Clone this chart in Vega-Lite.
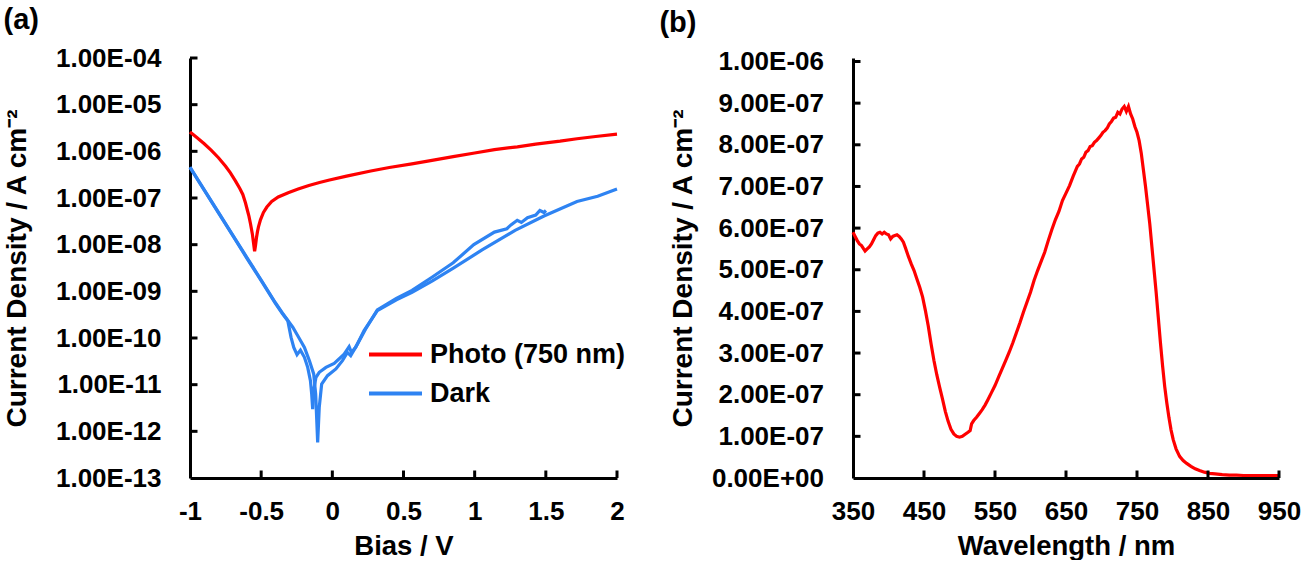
{
  "$schema": "https://vega.github.io/schema/vega-lite/v6.json",
  "background": "white",
  "padding": {"left": 3, "top": 5, "right": 5, "bottom": 0},
  "spacing": 34,
  "config": {
    "view": {"stroke": null},
    "font": "Liberation Sans",
    "axis": {
      "labelFont": "Liberation Sans", "labelFontSize": 26, "labelFontWeight": "bold", "labelColor": "black",
      "titleFont": "Liberation Sans", "titleFontSize": 28, "titleFontWeight": "bold", "titleColor": "black",
      "domainColor": "black", "domainWidth": 3, "ticks": false,
      "grid": false, "labelFlush": false, "labelOverlap": false
    },
    "axisX": {"labelPadding": 20, "titlePadding": 8, "titleFontSize": 27.5},
    "title": {"font": "Liberation Sans", "fontSize": 29, "fontWeight": "bold", "color": "black", "anchor": "start", "frame": "bounds"}
  },
  "datasets": {
    "iv": [
      {"series": "Photo (750 nm)", "scan": "p", "bias": -1.0, "j": 2.6e-6},
      {"series": "Photo (750 nm)", "scan": "p", "bias": -0.95, "j": 1.95e-6},
      {"series": "Photo (750 nm)", "scan": "p", "bias": -0.9, "j": 1.45e-6},
      {"series": "Photo (750 nm)", "scan": "p", "bias": -0.85, "j": 1.05e-6},
      {"series": "Photo (750 nm)", "scan": "p", "bias": -0.8, "j": 7.3e-7},
      {"series": "Photo (750 nm)", "scan": "p", "bias": -0.75, "j": 4.8e-7},
      {"series": "Photo (750 nm)", "scan": "p", "bias": -0.716, "j": 3.45e-7},
      {"series": "Photo (750 nm)", "scan": "p", "bias": -0.68, "j": 2.3e-7},
      {"series": "Photo (750 nm)", "scan": "p", "bias": -0.65, "j": 1.6e-7},
      {"series": "Photo (750 nm)", "scan": "p", "bias": -0.629, "j": 1.19e-7},
      {"series": "Photo (750 nm)", "scan": "p", "bias": -0.61, "j": 7.8e-8},
      {"series": "Photo (750 nm)", "scan": "p", "bias": -0.595, "j": 5.2e-8},
      {"series": "Photo (750 nm)", "scan": "p", "bias": -0.586, "j": 4.1e-8},
      {"series": "Photo (750 nm)", "scan": "p", "bias": -0.575, "j": 2.8e-8},
      {"series": "Photo (750 nm)", "scan": "p", "bias": -0.562, "j": 1.7e-8},
      {"series": "Photo (750 nm)", "scan": "p", "bias": -0.552, "j": 1.0e-8},
      {"series": "Photo (750 nm)", "scan": "p", "bias": -0.546, "j": 7.2e-9},
      {"series": "Photo (750 nm)", "scan": "p", "bias": -0.54, "j": 9.5e-9},
      {"series": "Photo (750 nm)", "scan": "p", "bias": -0.533, "j": 1.4e-8},
      {"series": "Photo (750 nm)", "scan": "p", "bias": -0.526, "j": 1.9e-8},
      {"series": "Photo (750 nm)", "scan": "p", "bias": -0.519, "j": 2.4e-8},
      {"series": "Photo (750 nm)", "scan": "p", "bias": -0.505, "j": 3.4e-8},
      {"series": "Photo (750 nm)", "scan": "p", "bias": -0.484, "j": 4.9e-8},
      {"series": "Photo (750 nm)", "scan": "p", "bias": -0.46, "j": 6.4e-8},
      {"series": "Photo (750 nm)", "scan": "p", "bias": -0.426, "j": 8.4e-8},
      {"series": "Photo (750 nm)", "scan": "p", "bias": -0.38, "j": 1.05e-7},
      {"series": "Photo (750 nm)", "scan": "p", "bias": -0.31, "j": 1.3e-7},
      {"series": "Photo (750 nm)", "scan": "p", "bias": -0.24, "j": 1.55e-7},
      {"series": "Photo (750 nm)", "scan": "p", "bias": -0.165, "j": 1.86e-7},
      {"series": "Photo (750 nm)", "scan": "p", "bias": -0.09, "j": 2.15e-7},
      {"series": "Photo (750 nm)", "scan": "p", "bias": -0.02, "j": 2.43e-7},
      {"series": "Photo (750 nm)", "scan": "p", "bias": 0.1, "j": 2.95e-7},
      {"series": "Photo (750 nm)", "scan": "p", "bias": 0.27, "j": 3.78e-7},
      {"series": "Photo (750 nm)", "scan": "p", "bias": 0.4, "j": 4.5e-7},
      {"series": "Photo (750 nm)", "scan": "p", "bias": 0.559, "j": 5.4e-7},
      {"series": "Photo (750 nm)", "scan": "p", "bias": 0.7, "j": 6.4e-7},
      {"series": "Photo (750 nm)", "scan": "p", "bias": 0.849, "j": 7.7e-7},
      {"series": "Photo (750 nm)", "scan": "p", "bias": 1.0, "j": 9.2e-7},
      {"series": "Photo (750 nm)", "scan": "p", "bias": 1.139, "j": 1.09e-6},
      {"series": "Photo (750 nm)", "scan": "p", "bias": 1.3, "j": 1.25e-6},
      {"series": "Photo (750 nm)", "scan": "p", "bias": 1.429, "j": 1.43e-6},
      {"series": "Photo (750 nm)", "scan": "p", "bias": 1.6, "j": 1.65e-6},
      {"series": "Photo (750 nm)", "scan": "p", "bias": 1.719, "j": 1.86e-6},
      {"series": "Photo (750 nm)", "scan": "p", "bias": 1.85, "j": 2.08e-6},
      {"series": "Photo (750 nm)", "scan": "p", "bias": 2.0, "j": 2.34e-6},

      {"series": "Dark", "scan": "a", "bias": -1.0, "j": 4.5e-7},
      {"series": "Dark", "scan": "a", "bias": -0.9, "j": 1.48e-7},
      {"series": "Dark", "scan": "a", "bias": -0.8, "j": 4.8e-8},
      {"series": "Dark", "scan": "a", "bias": -0.7, "j": 1.58e-8},
      {"series": "Dark", "scan": "a", "bias": -0.6, "j": 5.1e-9},
      {"series": "Dark", "scan": "a", "bias": -0.5, "j": 1.7e-9},
      {"series": "Dark", "scan": "a", "bias": -0.4, "j": 5.5e-10},
      {"series": "Dark", "scan": "a", "bias": -0.35, "j": 3.3e-10},
      {"series": "Dark", "scan": "a", "bias": -0.313, "j": 2.35e-10},
      {"series": "Dark", "scan": "a", "bias": -0.29, "j": 1.03e-10},
      {"series": "Dark", "scan": "a", "bias": -0.271, "j": 6.3e-11},
      {"series": "Dark", "scan": "a", "bias": -0.248, "j": 4.4e-11},
      {"series": "Dark", "scan": "a", "bias": -0.224, "j": 5.5e-11},
      {"series": "Dark", "scan": "a", "bias": -0.196, "j": 3.85e-11},
      {"series": "Dark", "scan": "a", "bias": -0.173, "j": 2.35e-11},
      {"series": "Dark", "scan": "a", "bias": -0.154, "j": 1.22e-11},
      {"series": "Dark", "scan": "a", "bias": -0.145, "j": 6.3e-12},
      {"series": "Dark", "scan": "a", "bias": -0.138, "j": 3.0e-12},
      {"series": "Dark", "scan": "a", "bias": -0.127, "j": 8.8e-12},
      {"series": "Dark", "scan": "a", "bias": -0.115, "j": 1.44e-11},
      {"series": "Dark", "scan": "a", "bias": -0.092, "j": 1.84e-11},
      {"series": "Dark", "scan": "a", "bias": -0.045, "j": 2.35e-11},
      {"series": "Dark", "scan": "a", "bias": 0.013, "j": 2.86e-11},
      {"series": "Dark", "scan": "a", "bias": 0.083, "j": 4.5e-11},
      {"series": "Dark", "scan": "a", "bias": 0.118, "j": 6.5e-11},
      {"series": "Dark", "scan": "a", "bias": 0.134, "j": 4.9e-11},
      {"series": "Dark", "scan": "a", "bias": 0.164, "j": 6.3e-11},
      {"series": "Dark", "scan": "a", "bias": 0.223, "j": 1.44e-10},
      {"series": "Dark", "scan": "a", "bias": 0.316, "j": 3.85e-10},
      {"series": "Dark", "scan": "a", "bias": 0.45, "j": 6.6e-10},
      {"series": "Dark", "scan": "a", "bias": 0.56, "j": 9.5e-10},
      {"series": "Dark", "scan": "a", "bias": 0.7, "j": 1.66e-9},
      {"series": "Dark", "scan": "a", "bias": 0.85, "j": 3.16e-9},
      {"series": "Dark", "scan": "a", "bias": 1.052, "j": 7.7e-9},
      {"series": "Dark", "scan": "a", "bias": 1.284, "j": 2.03e-8},
      {"series": "Dark", "scan": "a", "bias": 1.487, "j": 4.1e-8},
      {"series": "Dark", "scan": "a", "bias": 1.719, "j": 8.4e-8},
      {"series": "Dark", "scan": "a", "bias": 1.864, "j": 1.09e-7},
      {"series": "Dark", "scan": "a", "bias": 2.0, "j": 1.56e-7},

      {"series": "Dark", "scan": "b", "bias": -1.0, "j": 4.6e-7},
      {"series": "Dark", "scan": "b", "bias": -0.9, "j": 1.5e-7},
      {"series": "Dark", "scan": "b", "bias": -0.8, "j": 4.9e-8},
      {"series": "Dark", "scan": "b", "bias": -0.7, "j": 1.6e-8},
      {"series": "Dark", "scan": "b", "bias": -0.6, "j": 5.3e-9},
      {"series": "Dark", "scan": "b", "bias": -0.5, "j": 1.75e-9},
      {"series": "Dark", "scan": "b", "bias": -0.4, "j": 5.7e-10},
      {"series": "Dark", "scan": "b", "bias": -0.35, "j": 3.4e-10},
      {"series": "Dark", "scan": "b", "bias": -0.278, "j": 1.7e-10},
      {"series": "Dark", "scan": "b", "bias": -0.243, "j": 1.12e-10},
      {"series": "Dark", "scan": "b", "bias": -0.196, "j": 6.3e-11},
      {"series": "Dark", "scan": "b", "bias": -0.161, "j": 3.27e-11},
      {"series": "Dark", "scan": "b", "bias": -0.131, "j": 1.7e-11},
      {"series": "Dark", "scan": "b", "bias": -0.117, "j": 6.3e-12},
      {"series": "Dark", "scan": "b", "bias": -0.103, "j": 5.8e-13},
      {"series": "Dark", "scan": "b", "bias": -0.092, "j": 3.27e-12},
      {"series": "Dark", "scan": "b", "bias": -0.075, "j": 1.03e-11},
      {"series": "Dark", "scan": "b", "bias": -0.034, "j": 1.56e-11},
      {"series": "Dark", "scan": "b", "bias": 0.025, "j": 2.17e-11},
      {"series": "Dark", "scan": "b", "bias": 0.071, "j": 3.27e-11},
      {"series": "Dark", "scan": "b", "bias": 0.106, "j": 4.9e-11},
      {"series": "Dark", "scan": "b", "bias": 0.129, "j": 4.2e-11},
      {"series": "Dark", "scan": "b", "bias": 0.176, "j": 7.4e-11},
      {"series": "Dark", "scan": "b", "bias": 0.234, "j": 1.56e-10},
      {"series": "Dark", "scan": "b", "bias": 0.316, "j": 4.0e-10},
      {"series": "Dark", "scan": "b", "bias": 0.45, "j": 7.1e-10},
      {"series": "Dark", "scan": "b", "bias": 0.56, "j": 1.05e-9},
      {"series": "Dark", "scan": "b", "bias": 0.7, "j": 2.0e-9},
      {"series": "Dark", "scan": "b", "bias": 0.849, "j": 4.1e-9},
      {"series": "Dark", "scan": "b", "bias": 0.994, "j": 1.0e-8},
      {"series": "Dark", "scan": "b", "bias": 1.139, "j": 1.86e-8},
      {"series": "Dark", "scan": "b", "bias": 1.226, "j": 2.2e-8},
      {"series": "Dark", "scan": "b", "bias": 1.255, "j": 2.65e-8},
      {"series": "Dark", "scan": "b", "bias": 1.299, "j": 3.33e-8},
      {"series": "Dark", "scan": "b", "bias": 1.328, "j": 3.0e-8},
      {"series": "Dark", "scan": "b", "bias": 1.371, "j": 3.78e-8},
      {"series": "Dark", "scan": "b", "bias": 1.429, "j": 4.3e-8},
      {"series": "Dark", "scan": "b", "bias": 1.458, "j": 5.4e-8},
      {"series": "Dark", "scan": "b", "bias": 1.487, "j": 4.9e-8},
      {"series": "Dark", "scan": "b", "bias": 1.501, "j": 5.4e-8}
    ],
    "spectrum": [
      {"wl": 350, "j": 5.90e-7}, {"wl": 353, "j": 5.80e-7}, {"wl": 356, "j": 5.70e-7}, {"wl": 359, "j": 5.62e-7},
      {"wl": 362, "j": 5.58e-7}, {"wl": 365, "j": 5.50e-7}, {"wl": 367, "j": 5.45e-7}, {"wl": 370, "j": 5.50e-7},
      {"wl": 373, "j": 5.55e-7}, {"wl": 376, "j": 5.62e-7}, {"wl": 379, "j": 5.72e-7}, {"wl": 382, "j": 5.82e-7},
      {"wl": 385, "j": 5.88e-7}, {"wl": 388, "j": 5.90e-7}, {"wl": 391, "j": 5.86e-7}, {"wl": 394, "j": 5.90e-7},
      {"wl": 397, "j": 5.86e-7}, {"wl": 400, "j": 5.84e-7}, {"wl": 403, "j": 5.74e-7}, {"wl": 406, "j": 5.80e-7},
      {"wl": 409, "j": 5.82e-7}, {"wl": 412, "j": 5.84e-7}, {"wl": 415, "j": 5.80e-7}, {"wl": 418, "j": 5.74e-7},
      {"wl": 421, "j": 5.66e-7}, {"wl": 424, "j": 5.52e-7}, {"wl": 428, "j": 5.32e-7}, {"wl": 432, "j": 5.14e-7},
      {"wl": 436, "j": 4.98e-7}, {"wl": 440, "j": 4.78e-7}, {"wl": 444, "j": 4.58e-7}, {"wl": 448, "j": 4.35e-7},
      {"wl": 452, "j": 4.02e-7}, {"wl": 456, "j": 3.65e-7}, {"wl": 460, "j": 3.22e-7}, {"wl": 464, "j": 2.82e-7},
      {"wl": 468, "j": 2.48e-7}, {"wl": 472, "j": 2.18e-7}, {"wl": 476, "j": 1.90e-7}, {"wl": 480, "j": 1.60e-7},
      {"wl": 484, "j": 1.36e-7}, {"wl": 488, "j": 1.17e-7}, {"wl": 492, "j": 1.06e-7}, {"wl": 496, "j": 1.00e-7},
      {"wl": 500, "j": 0.98e-7}, {"wl": 504, "j": 1.00e-7}, {"wl": 508, "j": 1.05e-7}, {"wl": 512, "j": 1.10e-7},
      {"wl": 515, "j": 1.14e-7}, {"wl": 517, "j": 1.30e-7}, {"wl": 520, "j": 1.38e-7}, {"wl": 524, "j": 1.46e-7},
      {"wl": 528, "j": 1.55e-7}, {"wl": 532, "j": 1.64e-7}, {"wl": 536, "j": 1.75e-7}, {"wl": 540, "j": 1.88e-7},
      {"wl": 545, "j": 2.05e-7}, {"wl": 550, "j": 2.22e-7}, {"wl": 555, "j": 2.42e-7}, {"wl": 560, "j": 2.62e-7},
      {"wl": 565, "j": 2.82e-7}, {"wl": 570, "j": 3.02e-7}, {"wl": 575, "j": 3.24e-7}, {"wl": 580, "j": 3.48e-7},
      {"wl": 585, "j": 3.72e-7}, {"wl": 590, "j": 3.98e-7}, {"wl": 595, "j": 4.22e-7}, {"wl": 600, "j": 4.46e-7},
      {"wl": 605, "j": 4.74e-7}, {"wl": 610, "j": 4.98e-7}, {"wl": 615, "j": 5.20e-7}, {"wl": 620, "j": 5.42e-7},
      {"wl": 625, "j": 5.70e-7}, {"wl": 630, "j": 5.96e-7}, {"wl": 635, "j": 6.20e-7}, {"wl": 640, "j": 6.40e-7},
      {"wl": 645, "j": 6.66e-7}, {"wl": 650, "j": 6.84e-7}, {"wl": 655, "j": 7.02e-7}, {"wl": 660, "j": 7.24e-7},
      {"wl": 663, "j": 7.36e-7}, {"wl": 666, "j": 7.48e-7}, {"wl": 669, "j": 7.54e-7}, {"wl": 672, "j": 7.66e-7},
      {"wl": 675, "j": 7.70e-7}, {"wl": 678, "j": 7.82e-7}, {"wl": 681, "j": 7.86e-7}, {"wl": 684, "j": 7.96e-7},
      {"wl": 687, "j": 7.98e-7}, {"wl": 690, "j": 8.06e-7}, {"wl": 693, "j": 8.10e-7}, {"wl": 696, "j": 8.16e-7},
      {"wl": 699, "j": 8.22e-7}, {"wl": 702, "j": 8.30e-7}, {"wl": 705, "j": 8.34e-7}, {"wl": 708, "j": 8.40e-7},
      {"wl": 711, "j": 8.50e-7}, {"wl": 714, "j": 8.56e-7}, {"wl": 717, "j": 8.64e-7}, {"wl": 720, "j": 8.66e-7},
      {"wl": 723, "j": 8.78e-7}, {"wl": 726, "j": 8.74e-7}, {"wl": 729, "j": 8.86e-7}, {"wl": 732, "j": 8.92e-7},
      {"wl": 735, "j": 8.80e-7}, {"wl": 738, "j": 8.92e-7}, {"wl": 741, "j": 8.74e-7}, {"wl": 744, "j": 8.62e-7},
      {"wl": 747, "j": 8.44e-7}, {"wl": 750, "j": 8.30e-7}, {"wl": 753, "j": 8.10e-7}, {"wl": 756, "j": 7.80e-7},
      {"wl": 759, "j": 7.40e-7}, {"wl": 762, "j": 7.00e-7}, {"wl": 765, "j": 6.55e-7}, {"wl": 768, "j": 6.10e-7},
      {"wl": 771, "j": 5.55e-7}, {"wl": 774, "j": 5.00e-7}, {"wl": 777, "j": 4.45e-7}, {"wl": 780, "j": 3.85e-7},
      {"wl": 783, "j": 3.25e-7}, {"wl": 786, "j": 2.70e-7}, {"wl": 789, "j": 2.20e-7}, {"wl": 792, "j": 1.80e-7},
      {"wl": 795, "j": 1.45e-7}, {"wl": 798, "j": 1.15e-7}, {"wl": 801, "j": 0.92e-7}, {"wl": 805, "j": 0.70e-7},
      {"wl": 810, "j": 0.52e-7}, {"wl": 815, "j": 0.42e-7}, {"wl": 820, "j": 0.35e-7}, {"wl": 826, "j": 0.28e-7},
      {"wl": 832, "j": 0.22e-7}, {"wl": 838, "j": 0.18e-7}, {"wl": 845, "j": 0.14e-7}, {"wl": 852, "j": 0.11e-7},
      {"wl": 860, "j": 0.10e-7}, {"wl": 870, "j": 0.08e-7}, {"wl": 880, "j": 0.07e-7}, {"wl": 890, "j": 0.07e-7},
      {"wl": 900, "j": 0.06e-7}, {"wl": 915, "j": 0.06e-7}, {"wl": 930, "j": 0.06e-7}, {"wl": 950, "j": 0.06e-7}
    ]
  },
  "hconcat": [
    {
      "title": {"text": "(a)", "offset": 10.5},
      "width": 427,
      "height": 420,
      "layer": [
        {
          "data": {"name": "iv"},
          "mark": {"type": "line", "strokeWidth": 3.2, "interpolate": "linear"},
          "encoding": {
            "x": {
              "field": "bias", "type": "quantitative", "title": "Bias / V",
              "scale": {"domain": [-1, 2], "nice": false, "zero": false},
              "axis": {"title": "Bias / V", "values": [-1, -0.5, 0, 0.5, 1, 1.5, 2], "labelExpr": "toString(datum.value)"}
            },
            "y": {
              "field": "j", "type": "quantitative", "title": "Current Density / A cm⁻²",
              "scale": {"type": "log", "domain": [1e-13, 1e-4], "nice": false},
              "axis": {
                "title": "Current Density / A cm⁻²",
                "labelPadding": 29, "titlePadding": 24,
                "values": [1e-13, 1e-12, 1e-11, 1e-10, 1e-9, 1e-8, 1e-7, 1e-6, 1e-5, 1e-4],
                "labelExpr": "'1.00E-' + pad(toString(round(-log(datum.value) / LN10)), 2, '0', 'left')"
              }
            },
            "color": {
              "field": "series", "type": "nominal",
              "scale": {"domain": ["Photo (750 nm)", "Dark"], "range": ["#ff0000", "#2e83f2"]},
              "legend": {
                "orient": "none", "legendX": 190, "legendY": 281, "title": null,
                "symbolType": "M-2,0H2", "symbolSize": 702, "symbolStrokeWidth": 4,
                "labelFont": "Liberation Sans", "labelFontSize": 27, "labelFontWeight": "bold", "labelColor": "black",
                "labelLimit": 400, "labelOffset": 19, "rowPadding": 10
              }
            },
            "detail": {"field": "scan", "type": "nominal"}
          }
        },
        {
          "data": {"values": [{"bias": -0.5}, {"bias": 0}, {"bias": 0.5}, {"bias": 1}, {"bias": 1.5}, {"bias": 2}]},
          "mark": {"type": "rule", "color": "black", "strokeWidth": 3, "y2Offset": -7.5},
          "encoding": {
            "x": {"field": "bias", "type": "quantitative", "title": "Bias / V", "scale": {"domain": [-1, 2], "nice": false, "zero": false}},
            "y": {"datum": 1e-13},
            "y2": {"datum": 1e-13}
          }
        },
        {
          "data": {"values": [{"j": 1e-12}, {"j": 1e-11}, {"j": 1e-10}, {"j": 1e-9}, {"j": 1e-8}, {"j": 1e-7}, {"j": 1e-6}, {"j": 1e-5}, {"j": 1e-4}]},
          "mark": {"type": "rule", "color": "black", "strokeWidth": 3, "x2Offset": 7.5},
          "encoding": {
            "y": {"field": "j", "type": "quantitative", "title": "Current Density / A cm⁻²", "scale": {"type": "log", "domain": [1e-13, 1e-4], "nice": false}},
            "x": {"datum": -1},
            "x2": {"datum": -1}
          }
        }
      ]
    },
    {
      "title": {"text": "(b)", "offset": 10.5, "dx": -10},
      "width": 426,
      "height": 420,
      "layer": [
        {
          "data": {"name": "spectrum"},
          "mark": {"type": "line", "strokeWidth": 3.2, "color": "#ff0000"},
          "encoding": {
            "x": {
              "field": "wl", "type": "quantitative", "title": "Wavelength / nm",
              "scale": {"domain": [350, 950], "nice": false, "zero": false},
              "axis": {"title": "Wavelength / nm", "values": [350, 450, 550, 650, 750, 850, 950], "labelExpr": "toString(datum.value)"}
            },
            "y": {
              "field": "j", "type": "quantitative", "title": "Current Density / A cm⁻²",
              "scale": {"domain": [0, 1.0084e-6], "nice": false},
              "axis": {
                "title": "Current Density / A cm⁻²",
                "labelPadding": 29.5, "titlePadding": 14,
                "values": [0, 1e-7, 2e-7, 3e-7, 4e-7, 5e-7, 6e-7, 7e-7, 8e-7, 9e-7, 1e-6],
                "labelExpr": "datum.value == 0 ? '0.00E+00' : (datum.value > 9.99e-7 ? '1.00E-06' : format(datum.value * 1e7, '.2f') + 'E-07')"
              }
            }
          }
        },
        {
          "data": {"values": [{"wl": 450}, {"wl": 550}, {"wl": 650}, {"wl": 750}, {"wl": 850}, {"wl": 950}]},
          "mark": {"type": "rule", "color": "black", "strokeWidth": 3, "y2Offset": -7.5},
          "encoding": {
            "x": {"field": "wl", "type": "quantitative", "title": "Wavelength / nm", "scale": {"domain": [350, 950], "nice": false, "zero": false}},
            "y": {"datum": 0},
            "y2": {"datum": 0}
          }
        },
        {
          "data": {"values": [{"j": 1e-7}, {"j": 2e-7}, {"j": 3e-7}, {"j": 4e-7}, {"j": 5e-7}, {"j": 6e-7}, {"j": 7e-7}, {"j": 8e-7}, {"j": 9e-7}, {"j": 1e-6}]},
          "mark": {"type": "rule", "color": "black", "strokeWidth": 3, "x2Offset": 7.5},
          "encoding": {
            "y": {"field": "j", "type": "quantitative", "title": "Current Density / A cm⁻²", "scale": {"domain": [0, 1.0084e-6], "nice": false}},
            "x": {"datum": 350},
            "x2": {"datum": 350}
          }
        }
      ]
    }
  ]
}
